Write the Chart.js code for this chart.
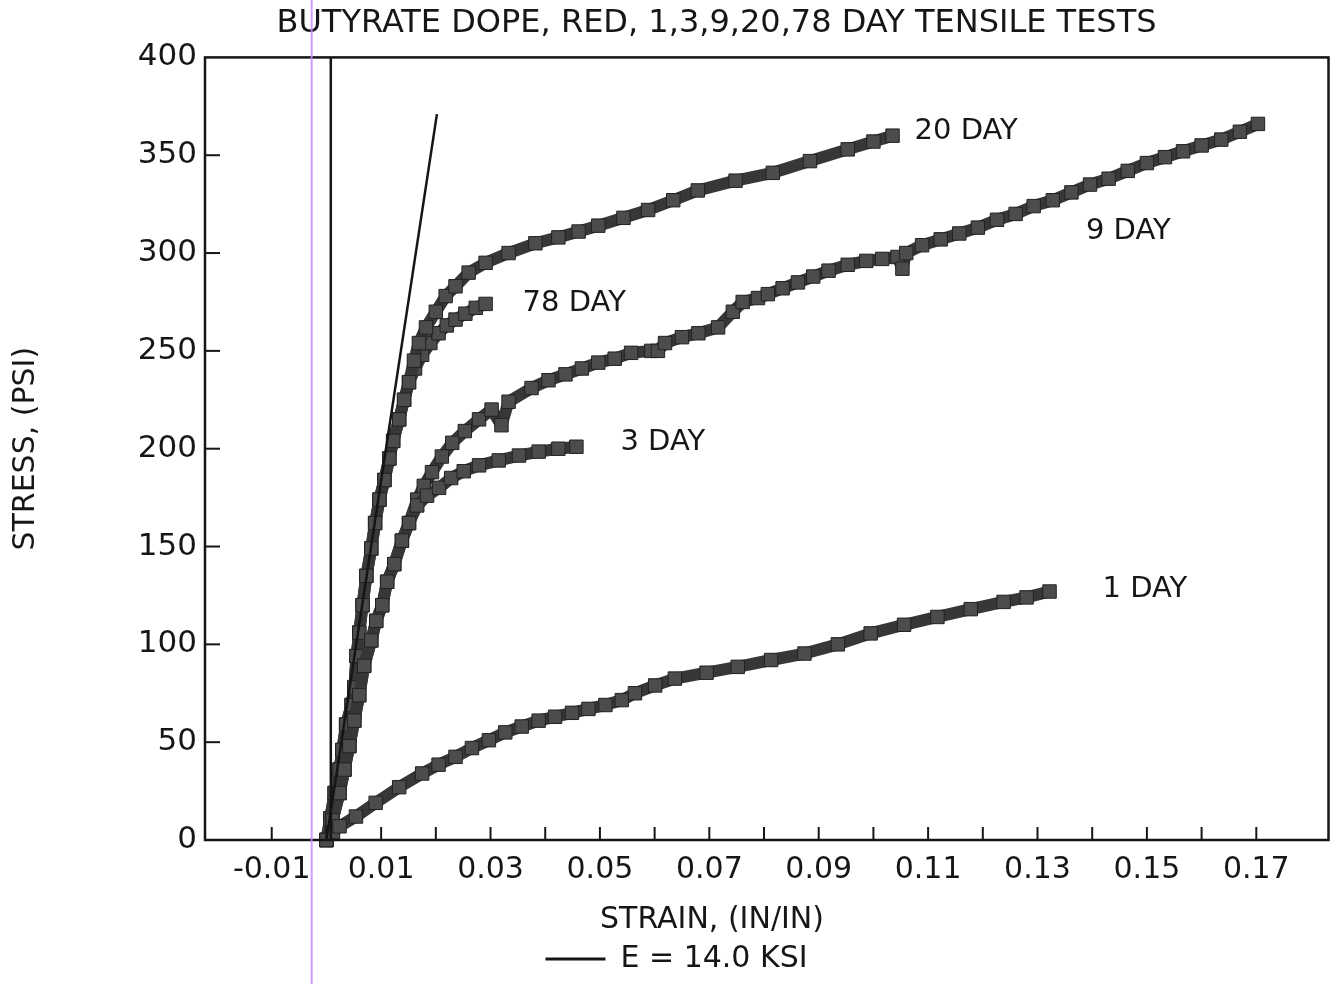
<!DOCTYPE html>
<html>
<head>
<meta charset="utf-8">
<title>Butyrate dope tensile tests</title>
<script src="https://cdn.jsdelivr.net/npm/chart.js@4.4.0/dist/chart.umd.min.js"></script>
<style>
  html, body { margin: 0; padding: 0; background: #fff; }
  #wrap { width: 1339px; height: 984px; position: relative; }
</style>
</head>
<body>
<div id="wrap"><canvas id="stressChart"></canvas></div>
<script>
// strain (in/in) and stress (psi)
var day1Strain = [0, 0.0012, 0.0024, 0.0054, 0.009, 0.0133, 0.0175, 0.0205, 0.0236, 0.0266, 0.0297, 0.0327, 0.0357, 0.0388, 0.0418, 0.0449, 0.0479, 0.051, 0.054, 0.0564, 0.0601, 0.0637, 0.0695, 0.0752, 0.0813, 0.0874, 0.0935, 0.0995, 0.1056, 0.1117, 0.1178, 0.1238, 0.128, 0.1322];
var day1Stress = [0, 4, 7, 12, 19, 27, 34, 38.5, 42.5, 47, 51, 55, 58, 61, 63, 65, 67, 69, 71.5, 75, 79, 82.5, 85.5, 88.5, 92, 95.3, 100, 105.6, 110, 114, 118, 121.7, 124, 127];

var day3Strain = [0, 0.0011, 0.0024, 0.0033, 0.0042, 0.0051, 0.006, 0.0069, 0.0082, 0.0091, 0.0102, 0.0111, 0.0124, 0.0138, 0.0151, 0.0166, 0.0184, 0.0206, 0.0228, 0.0251, 0.0279, 0.0315, 0.0352, 0.0388, 0.0424, 0.0457];
var day3Stress = [0, 10, 24, 36, 48, 61, 74, 89, 102, 112, 120, 132, 141, 153, 162, 171, 176, 180, 185, 188.5, 191.5, 194, 196.5, 198.5, 200, 201];

var day9Strain = [0, 0.0011, 0.0024, 0.0033, 0.0042, 0.0051, 0.006, 0.0069, 0.0082, 0.0091, 0.0102, 0.0111, 0.0124, 0.0138, 0.0151, 0.0166, 0.0178, 0.0193, 0.0211, 0.023, 0.0253, 0.0279, 0.0302, 0.032, 0.0333, 0.0375, 0.0406, 0.0437, 0.0467, 0.0497, 0.0527, 0.0557, 0.0594, 0.0606, 0.0619, 0.065, 0.068, 0.0716, 0.0743, 0.0761, 0.0789, 0.0807, 0.0834, 0.0862, 0.089, 0.0918, 0.0953, 0.0987, 0.1016, 0.1044, 0.1053, 0.106, 0.1089, 0.1123, 0.1157, 0.1191, 0.1226, 0.126, 0.1293, 0.1328, 0.1362, 0.1396, 0.143, 0.1465, 0.15, 0.1533, 0.1566, 0.16, 0.1636, 0.167, 0.1703];
var day9Stress = [0, 10, 24, 36, 48, 61, 74, 89, 102, 112, 120, 132, 141, 153, 162, 174, 181, 188, 196, 203, 209, 215, 220, 212, 224, 231, 235, 238, 241, 244, 246, 249, 250, 250, 254, 257, 259, 262, 270, 275, 277, 279, 282, 285, 288, 291, 294, 296, 297, 298, 292, 300, 304, 307, 310, 313, 317, 320, 324, 327, 331, 335, 338, 342, 346, 349, 352, 355, 358, 362, 366];

var day20Strain = [0, 0.0007, 0.0015, 0.0024, 0.0029, 0.0036, 0.0046, 0.0051, 0.0055, 0.006, 0.0066, 0.0073, 0.0082, 0.0089, 0.0097, 0.0106, 0.0115, 0.0122, 0.0133, 0.0142, 0.0151, 0.016, 0.0169, 0.0182, 0.02, 0.0218, 0.0236, 0.026, 0.0291, 0.0333, 0.0382, 0.0424, 0.0461, 0.0497, 0.0543, 0.0588, 0.0634, 0.0679, 0.0748, 0.0816, 0.0884, 0.0953, 0.1, 0.1035];
var day20Stress = [0, 11, 24, 36, 46, 59, 69, 78, 94, 106, 120, 135, 149, 162, 174, 184, 195, 204, 215, 225, 234, 245, 254, 262, 270, 278, 283, 290, 295, 300, 305, 308, 311, 314, 318, 322, 327, 332, 337, 341, 347, 353, 357, 360];

var day78Strain = [0, 0.0007, 0.0015, 0.0024, 0.0029, 0.0036, 0.0046, 0.0051, 0.0055, 0.006, 0.0066, 0.0073, 0.0082, 0.0089, 0.0097, 0.0106, 0.0115, 0.0122, 0.0133, 0.0142, 0.0151, 0.0162, 0.0175, 0.019, 0.0205, 0.022, 0.0236, 0.0254, 0.0273, 0.0291];
var day78Stress = [0, 11, 24, 36, 46, 59, 69, 78, 94, 106, 120, 135, 149, 162, 174, 184, 195, 204, 215, 225, 234, 241, 248, 254, 259, 263, 266, 269, 272, 274];

var seriesNames = ["1 DAY", "3 DAY", "9 DAY", "20 DAY", "78 DAY"];

// modulus line and the plain vertical line near zero strain
var modulusLabel = "E = 14.0 KSI";
var modulusStrain = [0, 0.0202];
var modulusStress = [0, 371];
var verticalStrain = [0.0008, 0.0008];
var verticalStress = [0, 400];

var xTickValues = [-0.01, 0, 0.01, 0.02, 0.03, 0.04, 0.05, 0.06, 0.07, 0.08, 0.09, 0.1, 0.11, 0.12, 0.13, 0.14, 0.15, 0.16, 0.17];
var yTickValues = [50, 100, 150, 200, 250, 300, 350];

// where each curve name sits, in px from the last point of the curve
var labelOffsets = [[53, -2], [44, -4], [-172, 108], [22, -4], [37, 0]];
var scanLineStrain = -0.0027;

var fontFamily = "'DejaVu Sans', sans-serif";
var ink = "#161616";

function pairUp(xs, ys) {
  return xs.map(function (x, i) {
    return { x: x, y: ys[i] };
  });
}

function curveDataset(label, xs, ys) {
  return {
    label: label,
    data: pairUp(xs, ys),
    borderColor: "#373737",
    backgroundColor: "#4a4a4a",
    borderWidth: 12,
    borderJoinStyle: "round",
    borderCapStyle: "round",
    pointStyle: "rect",
    pointRadius: 9.5,
    pointBorderColor: "#222",
    pointBorderWidth: 1,
    pointBackgroundColor: "#4c4c4c",
    tension: 0,
    clip: false,
    order: 2
  };
}

var datasets = [
  curveDataset(seriesNames[0], day1Strain, day1Stress),
  curveDataset(seriesNames[1], day3Strain, day3Stress),
  curveDataset(seriesNames[2], day9Strain, day9Stress),
  curveDataset(seriesNames[3], day20Strain, day20Stress),
  curveDataset(seriesNames[4], day78Strain, day78Stress),
  {
    label: modulusLabel,
    data: pairUp(modulusStrain, modulusStress),
    borderColor: "#151515",
    backgroundColor: "#151515",
    borderWidth: 2.5,
    pointRadius: 0,
    order: 0
  },
  {
    label: "vertical",
    data: pairUp(verticalStrain, verticalStress),
    borderColor: "#151515",
    backgroundColor: "#151515",
    borderWidth: 2.5,
    pointRadius: 0,
    order: 1
  }
];

var paperPlugin = {
  id: "paper",
  afterLayout: function (chart) {
    // the scanned title sits a bit right of the page centre
    if (chart.titleBlock) {
      chart.titleBlock.left += 50;
      chart.titleBlock.right += 50;
    }
    if (chart.legend) {
      chart.legend.left += 10;
      chart.legend.right += 10;
    }
  },
  afterDatasetsDraw: function (chart) {
    var ctx = chart.ctx;
    ctx.save();
    ctx.font = "29px " + fontFamily;
    ctx.fillStyle = ink;
    ctx.textAlign = "left";
    ctx.textBaseline = "middle";
    seriesNames.forEach(function (name, i) {
      var pts = chart.getDatasetMeta(i).data;
      var last = pts[pts.length - 1];
      ctx.fillText(name, last.x + labelOffsets[i][0], last.y + labelOffsets[i][1]);
    });
    ctx.restore();
  },
  afterDraw: function (chart) {
    var ctx = chart.ctx;
    var area = chart.chartArea;
    var xs = chart.scales.x;
    var ys = chart.scales.y;
    ctx.save();
    ctx.strokeStyle = "#151515";
    ctx.lineWidth = 2.5;
    ctx.strokeRect(area.left, area.top, area.right - area.left, area.bottom - area.top);

    // inward tick marks
    ctx.lineWidth = 2;
    xTickValues.forEach(function (v) {
      var px = xs.getPixelForValue(v);
      ctx.beginPath();
      ctx.moveTo(px, area.bottom);
      ctx.lineTo(px, area.bottom - 13);
      ctx.stroke();
    });
    yTickValues.forEach(function (v) {
      var py = ys.getPixelForValue(v);
      ctx.beginPath();
      ctx.moveTo(area.left, py);
      ctx.lineTo(area.left + 15, py);
      ctx.stroke();
    });

    // x axis title
    ctx.font = "30px " + fontFamily;
    ctx.fillStyle = ink;
    ctx.textAlign = "center";
    ctx.textBaseline = "middle";
    ctx.fillText("STRAIN, (IN/IN)", 712, 920);

    // faint purple scanner streak
    var sx = xs.getPixelForValue(scanLineStrain);
    ctx.strokeStyle = "rgba(196, 140, 250, 0.85)";
    ctx.lineWidth = 2;
    ctx.beginPath();
    ctx.moveTo(sx, 0);
    ctx.lineTo(sx, chart.height);
    ctx.stroke();
    ctx.restore();
  }
};

var ctx = document.getElementById("stressChart").getContext("2d");
var chart = new Chart(ctx, {
  type: "line",
  data: { datasets: datasets },
  plugins: [paperPlugin],
  options: {
    responsive: true,
    maintainAspectRatio: false,
    animation: false,
    events: [],
    layout: { padding: { left: 0, right: 6, top: 0, bottom: 0 } },
    plugins: {
      title: {
        display: true,
        text: "BUTYRATE DOPE, RED, 1,3,9,20,78 DAY TENSILE TESTS",
        color: ink,
        font: { family: fontFamily, size: 32, weight: "normal" },
        padding: { top: 4, bottom: 15 }
      },
      legend: {
        display: true,
        position: "bottom",
        labels: {
          color: ink,
          font: { family: fontFamily, size: 30 },
          boxWidth: 60,
          boxHeight: 3,
          padding: 5,
          generateLabels: function (chart) {
            return Chart.defaults.plugins.legend.labels.generateLabels(chart)
              .filter(function (item) { return item.text === modulusLabel; })
              .map(function (item) { item.lineWidth = 0; return item; });
          }
        }
      },
      tooltip: { enabled: false }
    },
    scales: {
      x: {
        type: "linear",
        min: -0.0222,
        max: 0.1832,
        grid: { display: false, drawTicks: false },
        border: { display: false },
        afterBuildTicks: function (scale) {
          scale.ticks = xTickValues.map(function (v) { return { value: v }; });
        },
        afterFit: function (scale) { scale.height = 99; },
        ticks: {
          autoSkip: false,
          maxRotation: 0,
          padding: 12,
          color: ink,
          font: { family: fontFamily, size: 30 },
          callback: function (value) {
            var k = Math.round(value * 100);
            return k % 2 !== 0 ? value.toFixed(2) : "";
          }
        }
      },
      y: {
        min: 0,
        max: 400,
        grid: { display: false, drawTicks: false },
        border: { display: false },
        afterFit: function (scale) { scale.width = 205; },
        ticks: {
          stepSize: 50,
          padding: 8,
          color: ink,
          font: { family: fontFamily, size: 31 }
        },
        title: {
          display: true,
          text: "STRESS, (PSI)",
          color: ink,
          font: { family: fontFamily, size: 30 },
          padding: { top: 8, bottom: 0 }
        }
      }
    }
  }
});
</script>
</body>
</html>
